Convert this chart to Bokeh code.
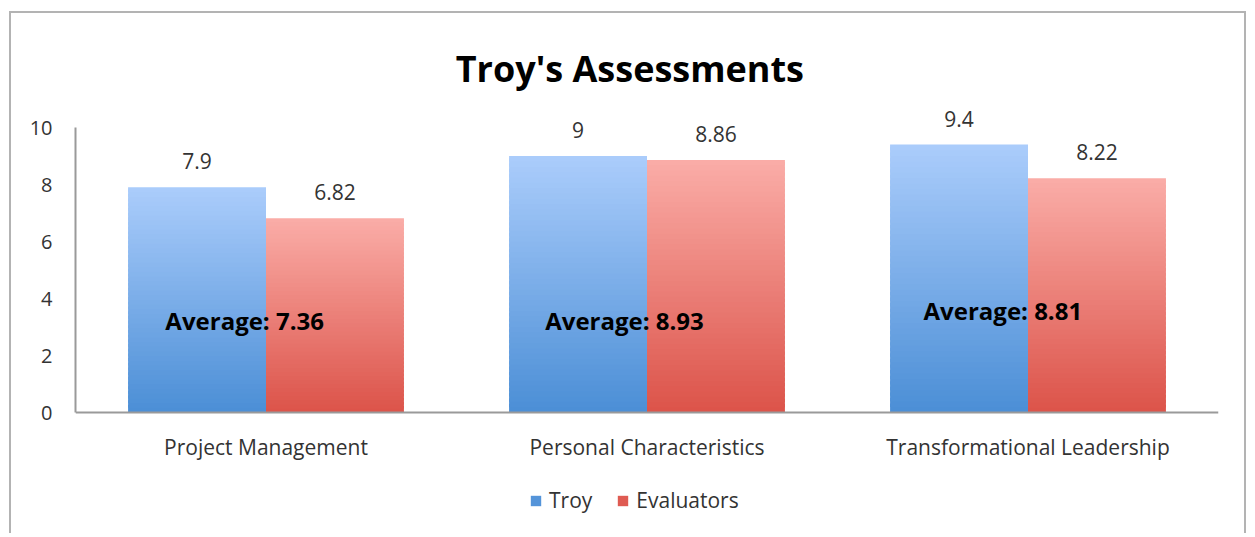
from bokeh.plotting import figure
from bokeh.models import (ColumnDataSource, FixedTicker, LabelSet, Label, Legend,
                          LegendItem, Range1d, Span)
from bokeh.core.properties import value
from bokeh.embed import file_html
from bokeh.resources import INLINE

# ---------------- data ----------------
title_text = "Troy's Assessments"
categories = ["Project Management", "Personal Characteristics",
              "Transformational Leadership"]
troy = [7.9, 9.0, 9.4]
evaluators = [6.82, 8.86, 8.22]
averages = [7.36, 8.93, 8.81]
troy_labels = ["7.9", "9", "9.4"]
eval_labels = ["6.82", "8.86", "8.22"]
y_ticks = [0, 2, 4, 6, 8, 10]

# ---------------- styling / placement ----------------
FONT = "Open Sans"
BAR_W = 0.362
N_STRIPS = 48
BLUE_DARK, BLUE_LIGHT = (76, 143, 214), (170, 204, 251)
RED_DARK, RED_LIGHT = (220, 84, 74), (250, 172, 167)
avg_dx = [-0.056, -0.059, -0.066]      # placement of the average text boxes
avg_y = [3.23, 3.23, 3.58]

# pixel layout (canvas origin sits 11px right / 13px down of the page corner)
W, H = 1237, 522
LEFT, RIGHT = 64, 30
ZERO_Y, PX_PER_UNIT = 399, 28.5          # canvas y of value 0, px per unit
Y_START = -(H - ZERO_Y) / PX_PER_UNIT
Y_END = ZERO_Y / PX_PER_UNIT
TITLE_X, TITLE_Y = 1.455, 12.07


def blend(c0, c1, t):
    r, g, b = (round(c0[j] + (c1[j] - c0[j]) * t) for j in range(3))
    return "#%02x%02x%02x" % (r, g, b)


def strips(values, left_side, dark, light):
    d = dict(left=[], right=[], bottom=[], top=[], color=[])
    for i, v in enumerate(values):
        c = i + 0.5
        x0, x1 = (c - BAR_W, c) if left_side else (c, c + BAR_W)
        for k in range(N_STRIPS):
            b = v * k / N_STRIPS
            t = min(v, v * (k + 1.6) / N_STRIPS)
            d["left"].append(x0)
            d["right"].append(x1)
            d["bottom"].append(b)
            d["top"].append(t)
            d["color"].append(blend(dark, light, k / (N_STRIPS - 1)))
    return ColumnDataSource(d)


p = figure(width=W, height=H, x_range=Range1d(0, 3),
           y_range=Range1d(Y_START, Y_END),
           output_backend="svg", toolbar_location=None, x_axis_location=None,
           min_border_left=LEFT, min_border_right=RIGHT,
           min_border_top=0, min_border_bottom=0)
p.styles = {"margin-left": "9px", "margin-top": "11px",
            "border-left": "2px solid #b3b3b3", "border-top": "2px solid #b3b3b3",
            "border-right": "2px solid #b3b3b3"}
p.outline_line_color = None
p.grid.visible = False
p.background_fill_color = "white"
p.border_fill_color = "white"

r_troy = p.quad(left="left", right="right", bottom="bottom", top="top",
                fill_color="color", line_color=None,
                source=strips(troy, True, BLUE_DARK, BLUE_LIGHT))
r_eval = p.quad(left="left", right="right", bottom="bottom", top="top",
                fill_color="color", line_color=None,
                source=strips(evaluators, False, RED_DARK, RED_LIGHT))

# category axis line at zero
p.add_layout(Span(location=0, dimension="width", line_color="#9a9a9a",
                  line_width=2))

# value axis
ya = p.yaxis[0]
ya.ticker = FixedTicker(ticks=y_ticks)
ya.bounds = (0, 10)
ya.axis_line_color = "#9a9a9a"
ya.axis_line_width = 2
ya.major_tick_line_color = None
ya.minor_tick_line_color = None
ya.major_tick_out = 0
ya.major_tick_in = 0
ya.major_label_text_font = FONT
ya.major_label_text_font_size = "20px"
ya.major_label_text_color = "#333333"
ya.major_label_standoff = 23

centers = [i + 0.5 for i in range(len(categories))]

# category labels
cat_src = ColumnDataSource(dict(x=centers, y=[0] * len(categories), text=categories))
p.add_layout(LabelSet(x="x", y="y", text="text", source=cat_src,
                      text_align="center", text_baseline="middle", y_offset=-34,
                      text_font=value(FONT), text_font_size=value("21px"),
                      text_color="#333333"))

# value labels
val_src = ColumnDataSource(dict(
    x=[c - BAR_W / 2 for c in centers] + [c + BAR_W / 2 for c in centers],
    y=troy + evaluators,
    text=troy_labels + eval_labels))
p.add_layout(LabelSet(x="x", y="y", text="text", source=val_src,
                      text_align="center", text_baseline="alphabetic", y_offset=18,
                      text_font=value(FONT), text_font_size=value("21px"),
                      text_color="#333333"))

# average text boxes
avg_src = ColumnDataSource(dict(
    x=[c + dx for c, dx in zip(centers, avg_dx)], y=avg_y,
    text=["Average: %.2f" % a for a in averages]))
p.add_layout(LabelSet(x="x", y="y", text="text", source=avg_src,
                      text_align="center", text_baseline="middle",
                      text_font=value(FONT), text_font_size=value("24px"),
                      text_font_style="bold", text_color="black"))

# title
p.add_layout(Label(x=TITLE_X, y=TITLE_Y, text=title_text, text_align="center",
                   text_baseline="middle", text_font=FONT, text_font_size="36px",
                   text_font_style="bold", text_color="black"))

legend = Legend(items=[LegendItem(label="Troy", renderers=[r_troy], index=4),
                       LegendItem(label="Evaluators", renderers=[r_eval], index=4)],
                orientation="horizontal", location=(454, 21),
                glyph_width=13, glyph_height=13, label_standoff=7, spacing=24,
                border_line_color=None, background_fill_alpha=0,
                label_text_font=FONT, label_text_font_size="21px",
                label_text_color="#333333", label_height=25, padding=0, margin=0)
p.add_layout(legend)

open("out.html", "w").write(file_html(p, INLINE))
